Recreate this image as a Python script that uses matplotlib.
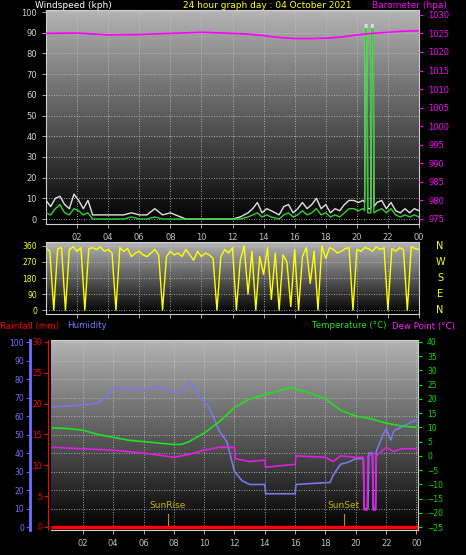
import matplotlib
matplotlib.use("Agg")
import matplotlib.pyplot as plt
import numpy as np

hour_labels = ["02","04","06","08","10","12","14","16","18","20","22","00"]

wind_t = [0,0.3,0.6,0.9,1.2,1.5,1.8,2.1,2.4,2.7,3.0,3.5,4,5,5.5,6,6.5,7,7.5,8,9,10,11,12,12.5,13,13.3,13.6,13.9,14.2,14.5,15,15.3,15.6,15.9,16.2,16.5,16.8,17.1,17.4,17.7,18,18.3,18.6,18.9,19.2,19.5,19.8,20.1,20.4,20.5,20.55,20.65,20.7,20.9,20.95,21.05,21.1,21.3,21.6,21.9,22.2,22.5,22.8,23.1,23.4,23.7,24]
wind_avg = [3,2,5,7,3,2,5,4,2,3,0,0,0,0,1,0,0,1,0,0,0,0,0,0,0,1,2,3,1,2,1,0,2,3,1,2,4,2,3,5,2,3,1,2,1,3,5,5,4,5,4,92,92,3,3,92,92,3,4,5,3,5,2,1,2,1,2,1]
wind_gust = [9,6,10,11,7,5,12,9,5,9,2,2,2,2,3,2,2,5,2,3,0,0,0,0,1,3,5,8,3,5,4,2,6,7,3,5,8,5,7,10,5,7,3,5,4,7,9,9,8,9,8,94,94,5,5,94,94,6,8,9,5,8,4,3,5,3,5,4]

baro_t = [0,2,4,6,8,10,12,13,14,15,16,17,18,19,20,21,22,23,24]
baro_v = [1025.0,1025.1,1024.6,1024.7,1025.0,1025.3,1025.0,1024.8,1024.4,1023.9,1023.6,1023.6,1023.7,1024.0,1024.6,1025.0,1025.3,1025.6,1025.7]

dir_t = list(np.arange(0, 24.01, 0.25))
dir_v = [350,330,0,345,350,0,340,355,330,350,0,345,350,340,355,330,
         340,320,0,350,330,345,300,320,330,310,300,320,340,310,0,300,
         330,310,320,300,340,310,280,330,300,320,310,290,0,300,340,320,
         350,0,280,360,90,330,0,300,200,350,60,320,0,310,270,20,
         340,0,300,350,150,330,0,360,290,350,340,320,330,345,350,0,
         340,330,350,345,330,355,340,350,0,345,330,350,340,0,355,345,340]

hum_t = [0,2,3,3.5,4,5,6,7,8,8.5,9,9.3,9.7,10.3,11,11.5,12,12.5,13,14,14.05,16,16.05,18,18.3,18.5,19,19.5,20,20.5,20.55,20.8,20.85,21.1,21.15,21.3,21.35,21.8,22,22.3,22.5,23,23.5,24]
hum_v = [65,66,67,70,75,75,74,76,73,73,78,77,70,65,52,46,30,25,23,23,18,18,23,24,24,28,34,35,37,37,10,10,40,40,10,10,41,50,53,47,52,54,56,58]
temp_t = [0,1,2,3,4,5,6,7,8,8.5,9,10,11,12,13,14,15,15.8,16,17,18,19,20,21,22,23,24]
temp_v = [9.8,9.6,9,7.5,6.5,5.5,5,4.5,4,4,5,8,12,17,20,21.5,23,24,23.5,22,20,16,14,13,11.5,10.5,10]
dew_t = [0,2,4,6,8,9,10,11,12,12.05,13,14,14.05,15,16,16.05,18,18.5,19,20,20.5,20.55,20.75,20.8,21,21.1,21.15,21.3,21.35,22,22.5,23,24]
dew_v = [3,2.5,2,1,-0.5,0.5,2,3,3,-1,-2,-1.5,-4,-3.5,-3,0,-0.5,-2,0,-0.5,-0.5,-19,-19,0,0.3,0.3,-19,-19,0,3,1.5,2.5,2.5]
rain_t = [0,24]
rain_v = [0,0]

W, H = 466, 555
fig = plt.figure(figsize=(W/100, H/100), dpi=100, facecolor="black")

def axpix(l, t, r, b):
    return fig.add_axes([l/W, 1-b/H, (r-l)/W, (b-t)/H])

grad = np.linspace(1, 0, 256).reshape(-1, 1)
from matplotlib.colors import LinearSegmentedColormap
cmap = LinearSegmentedColormap.from_list("g", ["#000000", "#b4b4b4"])

def style(ax, xlim, xlabels=True):
    ax.set_facecolor("black")
    ax.imshow(grad, aspect="auto", cmap=cmap, extent=[xlim[0], xlim[1], ax.get_ylim()[0], ax.get_ylim()[1]], zorder=0)
    ax.set_xlim(*xlim)
    for s in ax.spines.values():
        s.set_color("#d0d0d0")
    ax.grid(True, color="#c8c8c8", lw=0.6, ls=(0, (1, 2)))
    ax.set_xticks(range(2, 25, 2))
    if xlabels:
        ax.set_xticklabels(hour_labels, color="yellow", fontsize=6)
    else:
        ax.set_xticklabels([])
    ax.tick_params(colors="#c0c0c0", length=3, width=0.6)

# top panel
ax1 = axpix(46, 10, 419, 224)
ax1.set_ylim(-2.4, 101)
style(ax1, (0, 24))
ax1.set_yticks(range(0, 101, 10))
ax1.tick_params(axis="y", labelcolor="#d0d0d0", labelsize=6)
ax1.plot(wind_t, wind_gust, color="#e0e0e0", lw=1.0, zorder=3)
ax1.plot(wind_t, wind_avg, color="#30d030", lw=1.0, zorder=4)
axb = ax1.twinx()
axb.set_ylim(973.65, 1031.3)
axb.set_yticks(range(975, 1031, 5))
axb.tick_params(axis="y", colors="#ff00ff", labelsize=6, length=3)
for s in axb.spines.values():
    s.set_visible(False)
axb.plot(baro_t, baro_v, color="#ff00ff", lw=1.2)
fig.text(35/W, 1-6/H, "Windspeed (kph)", color="white", fontsize=6.5, va="center")
fig.text(267/W, 1-6/H, "24 hour graph day : 04 October 2021", color="yellow", fontsize=6.5, va="center", ha="center")
fig.text(372/W, 1-6/H, "Barometer (hpa)", color="#ff00ff", fontsize=6.5, va="center")

# direction panel
ax2 = axpix(46, 242, 419, 314)
ax2.set_ylim(-22, 382)
style(ax2, (0, 24), xlabels=False)
ax2.set_yticks(range(0, 361, 90))
ax2.tick_params(axis="y", labelcolor="yellow", labelsize=5.5)
ax2.plot(dir_t, dir_v, color="yellow", lw=1.0)
for lab, y in zip(["N", "W", "S", "E", "N"], [246, 262, 278, 294, 310]):
    fig.text(440/W, 1-y/H, lab, color="yellow", fontsize=7, va="center", ha="center")

# bottom panel
ax3 = axpix(51, 340, 418, 530)
ax3.set_ylim(-1.6, 101.1)
style(ax3, (-0.1, 24.1))
ax3.set_yticks(range(0, 101, 10))
ax3.tick_params(axis="y", colors="#7070ff", labelsize=5.5, pad=1.5)
ax3.spines["left"].set_position(("outward", 15))
ax3.spines["left"].set_color("#7070ff")
ax3.spines["left"].set_linewidth(2)
ax3.plot(hum_t, hum_v, color="#7878e8", lw=1.2, zorder=3)
axr = ax3.twinx()
axr.set_ylim(-0.49, 30.3)
axr.yaxis.set_ticks_position("left")
axr.spines["left"].set_visible(True)
axr.spines["left"].set_color("red")
axr.spines["left"].set_position(("outward", 2))
axr.spines["right"].set_visible(False)
axr.spines["top"].set_visible(False)
axr.spines["bottom"].set_visible(False)
axr.set_yticks(range(0, 31, 5))
axr.tick_params(axis="y", colors="red", labelsize=5.5, length=3, pad=1.5)
axr.plot(rain_t, rain_v, color="red", lw=2.5, zorder=5)
axt = ax3.twinx()
axt.set_ylim(-26.05, 40.7)
axt.set_yticks(range(-25, 41, 5))
axt.tick_params(axis="y", colors="#00e000", labelsize=5.5, length=3)
for s in axt.spines.values():
    s.set_visible(False)
axt.plot(temp_t, temp_v, color="#20e020", lw=1.2)
axt.plot(dew_t, dew_v, color="#e020e0", lw=1.2)
for x, lab in [(7.6, "SunRise"), (19.2, "SunSet")]:
    ax3.plot([x, x], [0, 7], color="#b0a000", lw=0.8, zorder=4)
    ax3.text(x, 9, lab, color="#c8b400", fontsize=6.5, ha="center", va="bottom", zorder=4)
fig.text(0, 1-326/H, "Rainfall (mm)", color="red", fontsize=6.3, va="center")
fig.text(67/W, 1-326/H, "Humidity", color="#7878ff", fontsize=6.3, va="center")
fig.text(312/W, 1-326/H, "Temperature (°C)", color="#20e020", fontsize=6.2, va="center")
fig.text(392/W, 1-326/H, "Dew Point (°C)", color="#ff20ff", fontsize=6.2, va="center")

fig.savefig("out.png", dpi=100, facecolor="black")
